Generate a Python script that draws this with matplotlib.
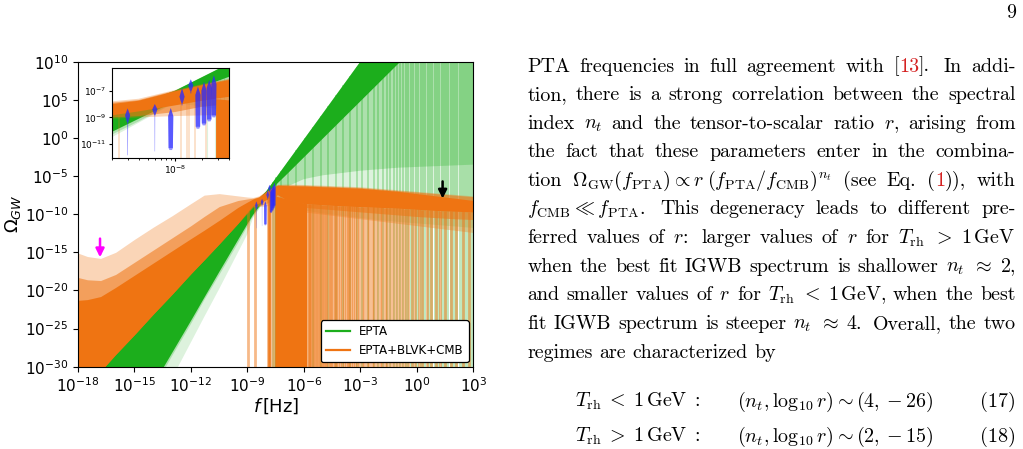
import numpy as np
import matplotlib
matplotlib.use("Agg")
import matplotlib.pyplot as plt
from matplotlib.ticker import FixedLocator, NullLocator, NullFormatter, LogLocator

# ---- values (log10 f, log10 Omega) ----
logf = [-18, -17.5, -16.8, -16, -15, -14, -13, -12, -11.3, -10.5, -9.5, -9, -8.7, -8.4,
        -8, -7.7, -7.4, -7, -6, -5, -4, -3, -2, -1, 0, 1, 2, 3]

# EPTA posterior band: upper edge, solid core / medium / faint lower edges
g_hi = [-33.0, -31.7, -29.9, -27.8, -25.2, -22.6, -20.0, -17.4, -15.6, -13.5, -10.9, -9.6, -8.8, -8.0,
        -7.0, -5.98, -4.96, -3.6, -0.2, 3.2, 6.6, 10.0, 13.4, 16.8, 20.2, 23.6, 27.0, 30.4]
g_core = [-49.2, -47.1, -44.2, -40.8, -36.6, -32.4, -28.2, -24.0, -21.0, -17.6, -13.4, -11.3, -10.1, -9.1,
          -7.8, -6.7, -5.95, -5.0, -2.55, -0.1, 2.35, 4.8, 7.25, 9.7, 12.1, 14.6, 17.0, 19.5]
g_mid = [-49.5, -47.5, -44.5, -41.0, -37.0, -33.0, -28.6, -24.4, -21.3, -18.0, -13.8, -11.6, -10.3, -9.3,
         -7.85, -7.2, -6.9, -6.5, -5.4, -4.9, -4.6, -4.3, -4.1, -3.9, -3.8, -3.7, -3.6, -3.5]
g_lo = [-55.0, -52.7, -49.4, -45.6, -40.9, -36.2, -31.5, -26.8, -23.5, -19.8, -15.0, -12.6, -10.5, -9.4,
        -7.9, -8.2, -8.5, -8.9, -9.5, -9.9, -10.2, -10.5, -10.8, -11.0, -11.2, -11.4, -11.6, -11.8]

# EPTA+BLVK+CMB posterior band
o_hi = [-15.1, -15.55, -15.8, -15.0, -13.3, -11.7, -10.2, -8.6, -7.5, -7.3, -7.6, -7.75, -7.8, -7.6,
        -6.95, -6.5, -6.1, -6.05, -6.1, -6.2, -6.3, -6.4, -6.6, -6.8, -7.0, -7.2, -7.4, -7.6]
o_mid_hi = [-18.3, -18.6, -18.7, -17.9, -16.3, -14.7, -13.1, -11.5, -10.3, -9.0, -8.2, -8.0, -7.9, -7.7,
            -7.0, -6.55, -6.15, -6.15, -6.2, -6.3, -6.4, -6.5, -6.7, -6.9, -7.1, -7.3, -7.5, -7.7]
o_core_hi = [-21.3, -21.2, -20.8, -19.6, -18.0, -16.4, -14.8, -13.2, -12.1, -10.8, -9.1, -8.4, -8.0, -7.75,
             -7.05, -6.6, -6.2, -6.25, -6.3, -6.4, -6.5, -6.6, -6.8, -7.0, -7.3, -7.6, -7.9, -8.2]
o_core_lo = [-33.7, -32.4, -30.6, -28.4, -25.8, -23.1, -20.5, -17.8, -16.0, -13.9, -11.2, -9.7, -8.85, -8.55,
             -8.1, -7.75, -7.45, -8.0, -8.6, -8.75, -8.9, -9.0, -9.1, -9.2, -9.35, -9.5, -9.6, -9.7]
o_mid_lo = [-33.7, -32.4, -30.6, -28.4, -25.8, -23.1, -20.5, -17.8, -16.0, -13.9, -11.2, -9.8, -9.0, -8.9,
            -8.6, -8.2, -8.0, -8.7, -9.1, -9.3, -9.5, -9.7, -9.9, -10.1, -10.3, -10.45, -10.6, -10.7]
o_lo = [-33.7, -32.4, -30.6, -28.4, -25.8, -23.1, -20.5, -17.8, -16.0, -13.9, -11.2, -9.9, -9.1, -9.0,
        -8.9, -8.85, -8.8, -9.3, -9.7, -10.0, -10.3, -10.6, -10.9, -11.2, -11.5, -11.8, -12.1, -12.4]

# cut-off frequencies (log10 f) where sampled spectra drop out
orange_block = [-7.55, -5.85]
orange_cut = [-8.96, -8.62, -7.93, -7.87, -7.84, -7.78, -7.66,
              -5.80, -5.74, -5.66, -5.60, -5.52, -5.45, -5.38, -5.30, -5.22, -5.15, -5.06, -4.98,
              -4.90, -4.80, -4.72, -4.62, -4.55, -4.46, -4.36, -4.28, -4.18, -4.08, -3.98, -3.88,
              -3.78, -3.68, -3.58, -3.48, -3.38, -3.27, -3.16, -3.05, -2.92, -2.78, -2.66, -2.52,
              -2.40, -2.26, -2.12, -1.98, -1.85, -1.70, -1.56, -1.42, -1.27, -1.12, -0.96, -0.80,
              -0.62, -0.45, -0.28, -0.10, 0.10, 0.30, 0.52, 0.75, 1.00, 1.25, 1.52, 1.80, 2.10, 2.45, 2.75]
green_cut = [-7.65, -7.56, -7.50, -7.46, -7.2, -6.85, -6.4, -5.95, -5.5, -5.1, -4.7, -4.3, -3.9,
             -3.55, -3.2, -2.9, -2.6, -2.3, -2.05, -1.8, -1.6, -1.4, -1.22, -1.05, -0.9, -0.75,
             -0.6, -0.45, -0.32, -0.18, -0.05, 0.08, 0.2, 0.33, 0.46, 0.58, 0.7, 0.82, 0.95, 1.07,
             1.2, 1.32, 1.44, 1.56, 1.68, 1.8, 1.92, 2.04, 2.16, 2.28, 2.4, 2.52, 2.63, 2.74, 2.85, 2.95]

# EPTA free-spectrum violins (log10 Omega)
pta_f = [3.0e-9, 6.0e-9, 9.0e-9, 1.2e-8, 1.5e-8, 1.8e-8, 2.1e-8, 2.4e-8, 2.7e-8]
viol_lo = [-11.84, -11.55, -11.45, -8.1, -7.2, -9.85, -9.6, -9.3, -9.0]
viol_body = [-9.4, -8.85, -11.3, -7.9, -7.0, -9.7, -9.45, -9.15, -8.85]
viol_peak = [-8.85, -8.4, -8.9, -7.45, -6.6, -7.3, -7.0, -6.8, -6.5]
viol_hi = [-8.33, -8.0, -8.3, -6.82, -6.15, -6.7, -6.33, -6.2, -5.85]
viol_tail = [0.2, 0.15, 0.85, 0.3, 0.3, 0.85, 0.85, 0.85, 0.85]

# arrows (log10 f, log10 Omega tail, tip)
arrow_pink = (-16.83, -13.2, -15.65)
arrow_black = (1.37, -5.7, -7.95)

main_xt = [-18, -15, -12, -9, -6, -3, 0, 3]
main_yt = [-30, -25, -20, -15, -10, -5, 0, 5, 10]
inset_yt = [-11, -9, -7]

GREEN = "#1cae1c"
ORANGE = "#ef7412"
BLUE = "#2a2aff"
RED = "#d42222"

W, H = 1023, 449
fig = plt.figure(figsize=(W / 100, H / 100), dpi=100)


def P(a):
    return 10.0 ** np.asarray(a, dtype=float)


def draw_all(ax, vw, slw, sal):
    f = P(logf)
    ax.fill_between(f, P(g_lo), P(g_hi), color=GREEN, alpha=0.15, lw=0, zorder=1)
    ax.fill_between(f, P(g_mid), P(g_hi), color=GREEN, alpha=0.25, lw=0, zorder=1)
    ax.fill_between(f, P(g_core), P(g_hi), color=GREEN, lw=0, zorder=1)
    gc = np.array(green_cut)
    ax.vlines(P(gc), 1e-40, P(np.interp(gc, logf, g_hi)), color=GREEN, alpha=0.3 * sal,
              lw=1.3 * slw, zorder=1)

    ax.fill_between(f, P(o_lo), P(o_hi), color=ORANGE, alpha=0.3, lw=0, zorder=2)
    ax.fill_between(f, P(o_mid_lo), P(o_mid_hi), color=ORANGE, alpha=0.55, lw=0, zorder=2)
    ax.fill_between(f, P(o_core_lo), P(o_core_hi), color=ORANGE, lw=0, zorder=2)
    ob = np.array(orange_block)
    ax.fill_between(P(ob), 1e-40, P(np.interp(ob, logf, o_core_lo)), color=ORANGE, lw=0, zorder=2)
    oc = np.array(orange_cut)
    ax.vlines(P(oc), 1e-40, P(np.interp(oc, logf, o_core_lo)), color=ORANGE, alpha=0.5 * sal,
              lw=2.0 * slw, zorder=2)

    for f0, lo, bd, pk, hi, tl in zip(pta_f, viol_lo, viol_body, viol_peak, viol_hi, viol_tail):
        lx = np.log10(f0)
        ys = np.array([lo, bd, pk, hi])
        ws = np.array([tl * 0.6, tl, 1.0, 0.0]) * vw
        ax.fill(P(np.r_[lx - ws, (lx + ws)[::-1]]), P(np.r_[ys, ys[::-1]]),
                color=BLUE, alpha=0.5, lw=0, zorder=3)
        ys = np.array([bd, pk, hi])
        ws = np.array([tl, 1.0, 0.0]) * vw
        ax.fill(P(np.r_[lx - ws, (lx + ws)[::-1]]), P(np.r_[ys, ys[::-1]]),
                color=BLUE, alpha=0.55, lw=0, zorder=3)


# main panel
ax = fig.add_axes([78 / W, 1 - 366.7 / H, (473.3 - 78) / W, (366.7 - 61.7) / H])
ax.set_xscale("log")
ax.set_yscale("log")
draw_all(ax, 0.07, 1.0, 1.0)
ax.set_xlim(1e-18, 1e3)
ax.set_ylim(1e-30, 1e10)
ax.xaxis.set_major_locator(FixedLocator(P(main_xt)))
ax.yaxis.set_major_locator(FixedLocator(P(main_yt)))
ax.xaxis.set_minor_locator(NullLocator())
ax.yaxis.set_minor_locator(NullLocator())
ax.tick_params(labelsize=11)
ax.set_xlabel(r"$f\,$[Hz]", fontsize=13, labelpad=1)
ax.set_ylabel(r"$\Omega_{GW}$", fontsize=13)
ax.yaxis.set_label_coords(-0.14, 0.5)

for (lf, y0, y1), col in [(arrow_pink, "magenta"), (arrow_black, "black")]:
    ax.annotate("", xy=(10 ** lf, 10 ** y1), xytext=(10 ** lf, 10 ** y0),
                arrowprops=dict(arrowstyle="-|>,head_width=0.25,head_length=0.5", color=col, lw=1.8,
                                shrinkA=0, shrinkB=0),
                zorder=6)

ax.plot([], [], color=GREEN, lw=1.6, label="EPTA")
ax.plot([], [], color=ORANGE, lw=1.6, label="EPTA+BLVK+CMB")
leg = ax.legend(loc="lower right", fontsize=8.6, framealpha=1, edgecolor="black",
                borderaxespad=0.4)
leg.get_frame().set_linewidth(0.9)

# inset
axi = fig.add_axes([111.7 / W, 1 - 158.3 / H, (229.3 - 111.7) / W, (158.3 - 67.7) / H])
axi.set_xscale("log")
axi.set_yscale("log")
draw_all(axi, 0.028, 0.6, 0.5)
axi.set_xlim(2e-9, 4e-8)
axi.set_ylim(10 ** -12.07, 10 ** -5.27)
axi.xaxis.set_major_locator(FixedLocator([1e-8]))
axi.xaxis.set_minor_locator(LogLocator(base=10, subs=np.arange(2, 10)))
axi.xaxis.set_minor_formatter(NullFormatter())
axi.yaxis.set_major_locator(FixedLocator(P(inset_yt)))
axi.yaxis.set_minor_locator(NullLocator())
axi.tick_params(labelsize=6.5, length=2.5, pad=1.5)
axi.tick_params(which="minor", length=1.5)

# ---- page text on the right ----
TXT = dict(family="cmr10", size=14.4, math_fontfamily="cm")
fig.canvas.draw()
rend = fig.canvas.get_renderer()

lines = [
    ["PTA", "frequencies", "in", "full", "agreement", "with", "[@13@].", "In", "addi-"],
    ["tion,", "there", "is", "a", "strong", "correlation", "between", "the", "spectral"],
    ["index", "$n_t$", "and", "the", "tensor-to-scalar", "ratio", "$r$,", "arising", "from"],
    ["the", "fact", "that", "these", "parameters", "enter", "in", "the", "combina-"],
    ["tion", r"$\Omega_{\mathrm{GW}}(f_{\mathrm{PTA}})\propto r\;(f_{\mathrm{PTA}}/f_{\mathrm{CMB}})^{n_t}$",
     "(see", "Eq.", "(@1@)),", "with"],
    [r"$f_{\mathrm{CMB}}\ll f_{\mathrm{PTA}}$.", "This", "degeneracy", "leads", "to", "different", "pre-"],
    ["ferred", "values", "of", "$r$:", "larger", "values", "of", "$r$", "for", r"$T_{\mathrm{rh}}$",
     "$>$", r"$1\,\mathrm{GeV}$"],
    ["when", "the", "best", "fit", "IGWB", "spectrum", "is", "shallower", "$n_t$", r"$\approx$", "$2$,"],
    ["and", "smaller", "values", "of", "$r$", "for", r"$T_{\mathrm{rh}}$", "$<$", r"$1\,\mathrm{GeV}$,",
     "when", "the", "best"],
    ["fit", "IGWB", "spectrum", "is", "steeper", "$n_t$", r"$\approx$", "$4$.", "Overall,", "the", "two"],
    ["regimes", "are", "characterized", "by"],
]
baselines = [71.5, 100.1, 128.7, 157.3, 185.9, 214.5, 243.1, 271.7, 300.3, 328.9, 357.5]


def seg_width(s):
    t = fig.text(0, 0, s, **TXT)
    w = t.get_window_extent(rend).width
    t.remove()
    return w


def put(s, x, y, color="black", ha="left"):
    fig.text(x / W, 1 - y / H, s, color=color, ha=ha, va="baseline", **TXT)


def put_line(tokens, y, justify=True, x0=527.3, x1=1015.5):
    segs = []
    for tok in tokens:
        parts = tok.split("@")
        segs.append([(p, RED if i % 2 else "black") for i, p in enumerate(parts) if p])
    widths = [[seg_width(s) for s, c in sg] for sg in segs]
    tw = [sum(w) for w in widths]
    wts = [1.5 if (t.endswith((".", ":")) and t != "Eq.") else 1.0 for t in tokens[:-1]]
    if justify:
        free = (x1 - x0) - sum(tw)
        gaps = [free * w / sum(wts) for w in wts]
    else:
        gaps = [6.7 for w in wts]
    x = x0
    for i, sg in enumerate(segs):
        xx = x
        for (s, c), w in zip(sg, widths[i]):
            put(s, xx, y, c)
            xx += w
        if i < len(gaps):
            x += tw[i] + gaps[i]


for i, (toks, yb) in enumerate(zip(lines, baselines)):
    put_line(toks, yb, justify=(i < len(lines) - 1))

put(r"$T_{\mathrm{rh}}\;<\;1\,\mathrm{GeV}\;:$", 575, 407)
put(r"$(n_t,\log_{10}r)\sim(4,-26)$", 737, 407)
put("(17)", 1016, 407, ha="right")
put(r"$T_{\mathrm{rh}}\;>\;1\,\mathrm{GeV}\;:$", 575, 442)
put(r"$(n_t,\log_{10}r)\sim(2,-15)$", 737, 442)
put("(18)", 1016, 442, ha="right")
put("9", 1016, 17.5, ha="right")

fig.savefig("out.png", dpi=100)
